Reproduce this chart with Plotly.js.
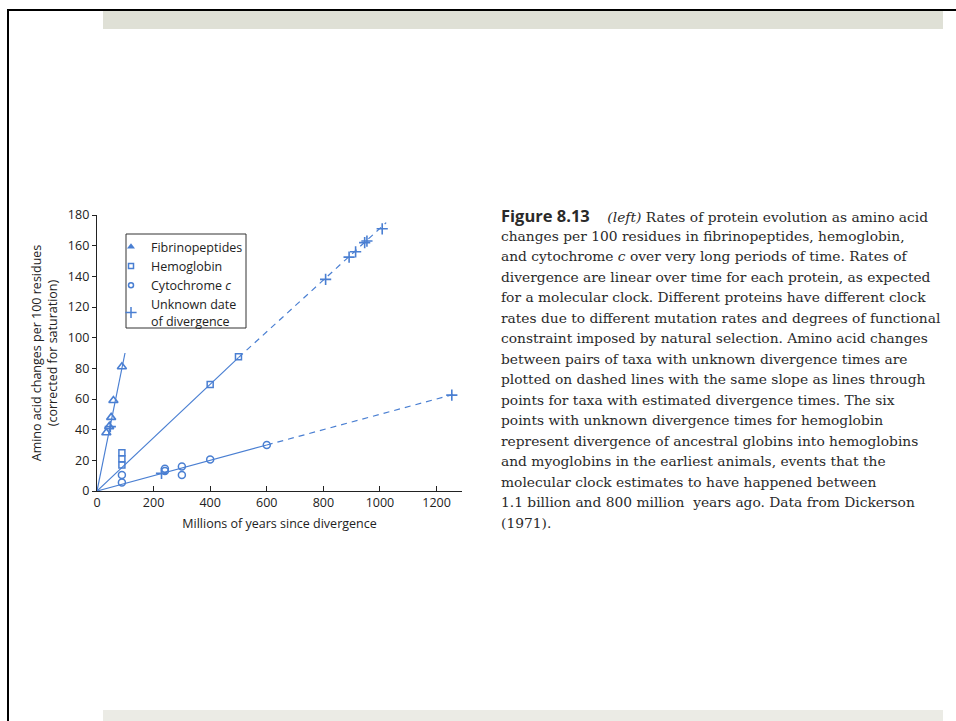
<!DOCTYPE html>
<html>
<head>
<meta charset="utf-8">
<script src="https://cdn.plot.ly/plotly-3.0.1.min.js"></script>
<style>
  html, body { margin: 0; padding: 0; background: #fff; }
  body { width: 956px; height: 721px; position: relative; overflow: hidden; }
  .deco { position: absolute; }
  #chart { position: absolute; left: 0; top: 0; width: 956px; height: 721px; }
</style>
</head>
<body>
<div class="deco" style="left:7px; top:9px; width:949px; height:2px; background:#000;"></div>
<div class="deco" style="left:7px; top:9px; width:2px; height:712px; background:#000;"></div>
<div class="deco" style="left:103px; top:11px; width:840px; height:18px; background:#dfe0d6;"></div>
<div class="deco" style="left:103px; top:710px; width:840px; height:11px; background:#ebebe5;"></div>
<div id="chart"></div>
<script>
// ---- data ----
const fibX = [33, 43, 50, 58, 88];
const fibY = [38, 42, 48, 59, 81];
const hemX = [88, 88, 88, 400, 500];
const hemY = [17, 21, 25, 69.5, 87.5];
const cytX = [88, 88, 240, 240, 300, 300, 400, 600];
const cytY = [5.5, 10.5, 13, 14.5, 16, 10.5, 20.5, 30];
const unkX = [47, 228, 808, 891, 914, 946, 954, 1008, 1254];
const unkY = [42, 11.5, 138, 152.5, 156, 162, 163, 171, 62.5];
// fitted clock lines (solid = dated taxa, dashed = extrapolation)
const fibLineX = [0, 99];    const fibLineY = [0, 90];
const hemSolidX = [0, 500];  const hemSolidY = [0, 87];
const hemDashX = [500, 1022]; const hemDashY = [87, 175];
const cytSolidX = [0, 600];  const cytSolidY = [0, 30];
const cytDashX = [600, 1270]; const cytDashY = [30, 63.5];

const seriesNames = ['Fibrinopeptides', 'Hemoglobin', 'Cytochrome <i>c</i>', 'Unknown date<br>of divergence'];
const xTicks = [0, 200, 400, 600, 800, 1000, 1200];
const yTicks = [0, 20, 40, 60, 80, 100, 120, 140, 160, 180];

const captionLines = [
  '<span style="font-family:\'Open Sans\', sans-serif;font-weight:bold;font-size:16.5px">Figure 8.13</span>\u00a0\u00a0\u00a0\u00a0<i>(left)</i> Rates of protein evolution as amino acid',
  'changes per 100 residues in fibrinopeptides, hemoglobin,',
  'and cytochrome <i>c</i> over very long periods of time. Rates of',
  'divergence are linear over time for each protein, as expected',
  'for a molecular clock. Different proteins have different clock',
  'rates due to different mutation rates and degrees of functional',
  'constraint imposed by natural selection. Amino acid changes',
  'between pairs of taxa with unknown divergence times are',
  'plotted on dashed lines with the same slope as lines through',
  'points for taxa with estimated divergence times. The six',
  'points with unknown divergence times for hemoglobin',
  'represent divergence of ancestral globins into hemoglobins',
  'and myoglobins in the earliest animals, events that the',
  'molecular clock estimates to have happened between',
  '1.1 billion and 800 million\u00a0 years ago. Data from Dickerson',
  '(1971).'
];

// ---- layout geometry (pixels) ----
const W = 956, H = 721;
const L = 97, R = 462, T = 215, B = 491;
const pw = R - L, ph = B - T;
const px2paperX = p => (p - L) / pw;
const px2paperY = p => (B - p) / ph;

const blue = '#4a7fd2';
const sans = "'Open Sans', sans-serif";
const serif = "'DejaVu Serif', 'Liberation Serif', serif";

const lineStyle = {color: blue, width: 1.2};
const dashStyle = {color: blue, width: 1.2, dash: '6px,5px'};

const traces = [
  {x: fibLineX, y: fibLineY, mode: 'lines', line: lineStyle, showlegend: false, hoverinfo: 'skip'},
  {x: hemSolidX, y: hemSolidY, mode: 'lines', line: lineStyle, showlegend: false, hoverinfo: 'skip'},
  {x: hemDashX, y: hemDashY, mode: 'lines', line: dashStyle, showlegend: false, hoverinfo: 'skip'},
  {x: cytSolidX, y: cytSolidY, mode: 'lines', line: lineStyle, showlegend: false, hoverinfo: 'skip'},
  {x: cytDashX, y: cytDashY, mode: 'lines', line: dashStyle, showlegend: false, hoverinfo: 'skip'},
  {x: fibX, y: fibY, mode: 'markers', name: seriesNames[0], legendgroup: 'f', showlegend: false,
   marker: {symbol: 'triangle-up-open', size: 8, color: blue, line: {width: 1.6, color: blue}}},
  {x: hemX, y: hemY, mode: 'markers', name: seriesNames[1], legendgroup: 'h', showlegend: false,
   marker: {symbol: 'square-open', size: 6, color: blue, line: {width: 1.5, color: blue}}},
  {x: cytX, y: cytY, mode: 'markers', name: seriesNames[2], legendgroup: 'c', showlegend: false,
   marker: {symbol: 'circle-open', size: 7, color: blue, line: {width: 1.5, color: blue}}},
  {x: unkX, y: unkY, mode: 'markers', name: seriesNames[3], legendgroup: 'u', showlegend: false,
   marker: {symbol: 'cross-thin-open', size: 8, color: blue, line: {width: 1.6, color: blue}}},
  // legend entries (smaller keys, as in the printed legend)
  {x: [null], y: [null], mode: 'markers', name: seriesNames[0], legendgroup: 'f',
   marker: {symbol: 'triangle-up', size: 7, color: blue}},
  {x: [null], y: [null], mode: 'markers', name: seriesNames[1], legendgroup: 'h',
   marker: {symbol: 'square-open', size: 5, color: blue, line: {width: 1.5, color: blue}}},
  {x: [null], y: [null], mode: 'markers', name: seriesNames[2], legendgroup: 'c',
   marker: {symbol: 'circle-open', size: 5, color: blue, line: {width: 1.5, color: blue}}},
  {x: [null], y: [null], mode: 'markers', name: seriesNames[3], legendgroup: 'u',
   marker: {symbol: 'cross-thin-open', size: 8, color: blue, line: {width: 1.5, color: blue}}}
];

const annotations = captionLines.map((t, i) => ({
  xref: 'paper', yref: 'paper',
  x: px2paperX(499), y: px2paperY(215 + i * 20.5),
  xanchor: 'left', yanchor: 'middle', showarrow: false, align: 'left',
  text: t, font: {family: serif, size: 13.8, color: '#2a2a2a'}
}));

const layout = {
  width: W, height: H,
  margin: {l: L, r: W - R, t: T, b: H - B, pad: 0},
  paper_bgcolor: 'rgba(0,0,0,0)',
  plot_bgcolor: 'rgba(0,0,0,0)',
  showlegend: true,
  legend: {
    x: px2paperX(111), y: px2paperY(232), xanchor: 'left', yanchor: 'top',
    bgcolor: 'rgba(0,0,0,0)', borderwidth: 0,
    font: {family: sans, size: 12.5, color: '#222'},
    tracegroupgap: 0, itemclick: false
  },
  xaxis: {
    range: [0, 1290], tickvals: xTicks, ticktext: xTicks.map(String),
    showgrid: false, zeroline: false, showline: true, linecolor: '#222', linewidth: 1.2,
    ticks: 'inside', ticklen: 5, tickwidth: 1, tickcolor: '#222',
    tickfont: {family: sans, size: 12.5, color: '#222'},
    title: {text: 'Millions of years since divergence', font: {family: sans, size: 12.5, color: '#222'}, standoff: 9}
  },
  yaxis: {
    range: [0, 180], tickvals: yTicks, ticktext: yTicks.map(String),
    showgrid: false, zeroline: false, showline: true, linecolor: '#222', linewidth: 1.2,
    ticks: 'outside', ticklen: 4, tickwidth: 1, tickcolor: '#222',
    tickfont: {family: sans, size: 12.5, color: '#222'},
    title: {text: 'Amino acid changes per 100 residues<br>(corrected for saturation)', font: {family: sans, size: 12.5, color: '#222'}, standoff: 7}
  },
  shapes: [{
    type: 'rect', xref: 'paper', yref: 'paper',
    x0: px2paperX(126), x1: px2paperX(246), y0: px2paperY(328), y1: px2paperY(234),
    line: {color: '#333', width: 1}, fillcolor: 'rgba(0,0,0,0)'
  }],
  annotations: annotations
};

Plotly.newPlot('chart', traces, layout, {displayModeBar: false, staticPlot: true});
</script>
</body>
</html>
